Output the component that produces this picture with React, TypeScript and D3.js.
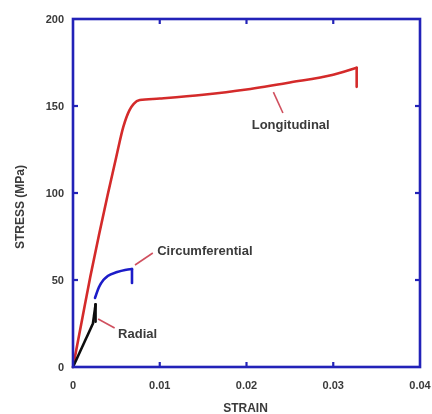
import React from "react";
import * as d3 from "d3";

const xTicks = [0, 0.01, 0.02, 0.03, 0.04];
const xTickLabels = ["0", "0.01", "0.02", "0.03", "0.04"];
const yTicks = [0, 50, 100, 150, 200];
const yTickLabels = ["0", "50", "100", "150", "200"];

const longStrain = [0, 0.001, 0.002, 0.003, 0.004, 0.005, 0.0058, 0.0065, 0.007, 0.0077, 0.01, 0.015, 0.02, 0.025, 0.03, 0.0327];
const longStress = [0, 26, 52, 76, 99, 121, 138, 147.5, 151.2, 153.4, 154.3, 156.5, 159.5, 163.5, 168, 172];
const longDrop = [0.0327, 161];

const circStrain = [0.00254, 0.003, 0.0035, 0.004, 0.0051, 0.006, 0.0068];
const circStress = [39.7, 46, 50, 52.3, 54.6, 55.8, 56.3];
const circDrop = [0.0068, 48.3];

const radStrain = [0, 0.0023, 0.0026];
const radStress = [0, 25, 36];
const radDrop = [0.0026, 26];

const labels = ["Longitudinal", "Circumferential", "Radial"];
const labelPos = [[0.0206, 136.8], [0.0097, 64.4], [0.0052, 16.7]];
const leaders = [
  [[0.0231, 158], [0.0242, 146]],
  [[0.00715, 58.6], [0.0092, 65.5]],
  [[0.0029, 27.6], [0.0048, 22.4]],
];

const W = 432, H = 414;
const L = 73, R = 420, T = 19, B = 367;
const AXIS = "#2424b8";
const TEXT = "#3a3a3a";
const FONT = "'Liberation Sans', Arial, sans-serif";

export default function App() {
  const x = d3.scaleLinear().domain([0, 0.04]).range([L, R]);
  const y = d3.scaleLinear().domain([0, 200]).range([B, T]);
  const smooth = d3.line<[number, number]>().x(d => x(d[0])).y(d => y(d[1])).curve(d3.curveMonotoneX);
  const straight = d3.line<[number, number]>().x(d => x(d[0])).y(d => y(d[1]));

  const series = [
    { s: longStrain, v: longStress, drop: longDrop, color: "#d42a2a", gen: smooth },
    { s: circStrain, v: circStress, drop: circDrop, color: "#1c1cc8", gen: smooth },
    { s: radStrain, v: radStress, drop: radDrop, color: "#111111", gen: straight },
  ];

  const tickLen = 5;
  return (
    <svg width={W} height={H} style={{ position: "absolute", left: 0, top: 0, background: "#fff" }}>
      <defs>
        <filter id="soft" x="-5%" y="-5%" width="110%" height="110%">
          <feGaussianBlur stdDeviation="0.45" />
        </filter>
      </defs>
      <g filter="url(#soft)">
        {series.map((se, i) => {
          const pts: [number, number][] = se.s.map((d, j) => [d, se.v[j]]);
          const last = pts[pts.length - 1];
          return (
            <g key={i}>
              <path d={se.gen(pts) || ""} fill="none" stroke={se.color} strokeWidth={2.6} strokeLinejoin="round" strokeLinecap="round" />
              <path d={straight([last, [se.drop[0], se.drop[1]]]) || ""} fill="none" stroke={se.color} strokeWidth={2.6} strokeLinecap="round" />
            </g>
          );
        })}
        {leaders.map((ld, i) => (
          <path key={i} d={straight(ld as [number, number][]) || ""} stroke="#d0505e" strokeWidth={1.6} fill="none" />
        ))}
        {labels.map((t, i) => (
          <text key={t} x={x(labelPos[i][0])} y={y(labelPos[i][1])} fontFamily={FONT} fontWeight="bold" fontSize={13} fill={TEXT}>{t}</text>
        ))}
        <rect x={L} y={T} width={R - L} height={B - T} fill="none" stroke={AXIS} strokeWidth={2.6} />
        {xTicks.slice(1, -1).map(t => (
          <g key={"xt" + t}>
            <line x1={x(t)} x2={x(t)} y1={B} y2={B - tickLen} stroke={AXIS} strokeWidth={2.2} />
            <line x1={x(t)} x2={x(t)} y1={T} y2={T + tickLen} stroke={AXIS} strokeWidth={2.2} />
          </g>
        ))}
        {yTicks.slice(1, -1).map(t => (
          <g key={"yt" + t}>
            <line x1={L} x2={L + tickLen} y1={y(t)} y2={y(t)} stroke={AXIS} strokeWidth={2.2} />
            <line x1={R} x2={R - tickLen} y1={y(t)} y2={y(t)} stroke={AXIS} strokeWidth={2.2} />
          </g>
        ))}
        {xTicks.map((t, i) => (
          <text key={"xl" + t} x={x(t)} y={389} textAnchor="middle" fontFamily={FONT} fontWeight="bold" fontSize={11} fill={TEXT}>{xTickLabels[i]}</text>
        ))}
        {yTicks.map((t, i) => (
          <text key={"yl" + t} x={64} y={y(t) + 4} textAnchor="end" fontFamily={FONT} fontWeight="bold" fontSize={11} fill={TEXT}>{yTickLabels[i]}</text>
        ))}
        <text x={(L + R) / 2 - 1} y={412} textAnchor="middle" fontFamily={FONT} fontWeight="bold" fontSize={12} fill={TEXT}>STRAIN</text>
        <text transform={`translate(24,${207}) rotate(-90)`} textAnchor="middle" fontFamily={FONT} fontWeight="bold" fontSize={12} fill={TEXT}>STRESS (MPa)</text>
      </g>
    </svg>
  );
}
